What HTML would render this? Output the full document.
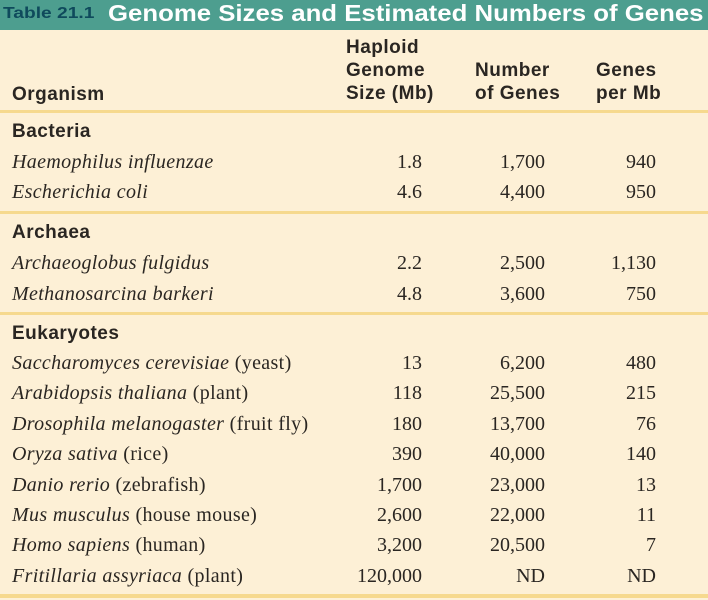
<!DOCTYPE html>
<html><head><style>
body{margin:0;width:708px;height:600px;background:#fdf0d6;position:relative;overflow:hidden;font-family:"Liberation Serif",serif;color:#2a2622}
.bar{position:absolute;left:0;top:0;width:708px;height:30px;background:#4d9e8f}
.t1{position:absolute;left:3px;top:5px;font:bold 16px "Liberation Sans",sans-serif;color:#0f4a5c;transform:scaleX(1.2);transform-origin:0 0;white-space:nowrap}
.t2{position:absolute;left:108px;top:0px;font:bold 23px "Liberation Sans",sans-serif;color:#fff;white-space:nowrap;transform:scaleX(1.12);transform-origin:0 0}
.h{position:absolute;font:bold 19px "Liberation Sans",sans-serif;letter-spacing:0.5px;line-height:23px;color:#2a2622;white-space:nowrap}
.line{position:absolute;left:0;width:708px;height:3px;background:#f6d98e}
.r{position:absolute;font-size:20px;letter-spacing:0.35px;line-height:20px;white-space:nowrap}
.g{font:bold 19px "Liberation Sans",sans-serif;letter-spacing:0.5px}
.n{position:absolute;font-size:20px;line-height:20px;text-align:right;white-space:nowrap}
</style></head><body>
<div class="bar"></div>
<div class="t1">Table 21.1</div>
<div class="t2">Genome Sizes and Estimated Numbers of Genes</div>
<div class="h" style="left:12px;top:83px">Organism</div>
<div class="h" style="left:346px;top:36px">Haploid<br>Genome<br>Size (Mb)</div>
<div class="h" style="left:475px;top:59px">Number<br>of Genes</div>
<div class="h" style="left:596px;top:59px">Genes<br>per Mb</div>
<div class="line" style="top:110px"></div>
<div class="line" style="top:211px"></div>
<div class="line" style="top:312px"></div>
<div class="line" style="top:594px;height:4px"></div>
<div id="rows"></div>
<script>
var d=[
[121,'g','Bacteria'],
[152,'i','<i>Haemophilus influenzae</i>','1.8','1,700','940'],
[182,'i','<i>Escherichia coli</i>','4.6','4,400','950'],
[222,'g','Archaea'],
[253,'i','<i>Archaeoglobus fulgidus</i>','2.2','2,500','1,130'],
[284,'i','<i>Methanosarcina barkeri</i>','4.8','3,600','750'],
[323,'g','Eukaryotes'],
[353,'i','<i>Saccharomyces cerevisiae</i> (yeast)','13','6,200','480'],
[383,'i','<i>Arabidopsis thaliana</i> (plant)','118','25,500','215'],
[414,'i','<i>Drosophila melanogaster</i> (fruit fly)','180','13,700','76'],
[444,'i','<i>Oryza sativa</i> (rice)','390','40,000','140'],
[475,'i','<i>Danio rerio</i> (zebrafish)','1,700','23,000','13'],
[505,'i','<i>Mus musculus</i> (house mouse)','2,600','22,000','11'],
[535,'i','<i>Homo sapiens</i> (human)','3,200','20,500','7'],
[566,'i','<i>Fritillaria assyriaca</i> (plant)','120,000','ND','ND']];
var h='';
d.forEach(function(r){
h+='<div class="r '+(r[1]=='g'?'g':'')+'" style="left:12px;top:'+r[0]+'px">'+r[2]+'</div>';
if(r[3]){
h+='<div class="n" style="right:286px;top:'+r[0]+'px">'+r[3]+'</div>';
h+='<div class="n" style="right:163px;top:'+r[0]+'px">'+r[4]+'</div>';
h+='<div class="n" style="right:52px;top:'+r[0]+'px">'+r[5]+'</div>';}
});
document.getElementById('rows').innerHTML=h;
</script>
</body></html>
